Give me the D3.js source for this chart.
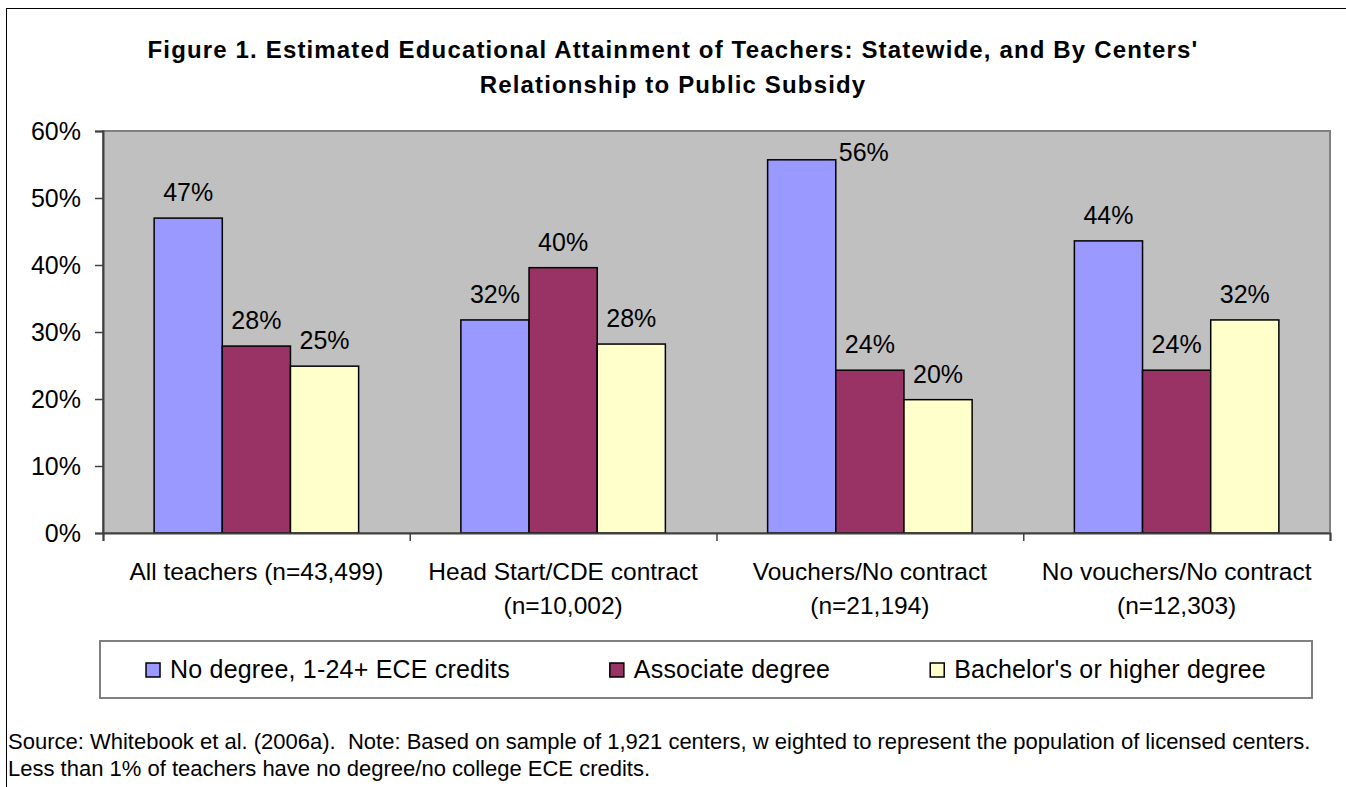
<!DOCTYPE html>
<html>
<head>
<meta charset="utf-8">
<script src="https://cdn.jsdelivr.net/npm/d3@7"></script>
<style>
  body { margin: 0; background: #fff; }
  svg  { display: block; font-family: "Liberation Sans", Arial, sans-serif; }
  .note { white-space: pre; }
</style>
</head>
<body>
<script>
/* global d3 */

var titleLines = [ "Figure 1. Estimated Educational Attainment of Teachers: Statewide, and By Centers'"
                 , "Relationship to Public Subsidy"
                 ];
var categories = ["All teachers", "Head Start/CDE contract", "Vouchers/No contract", "No vouchers/No contract"];
var catLine1   = ["All teachers (n=43,499)", "Head Start/CDE contract", "Vouchers/No contract", "No vouchers/No contract"];
var catLine2   = ["", "(n=10,002)", "(n=21,194)", "(n=12,303)"];
var seriesNames = ["No degree, 1-24+ ECE credits", "Associate degree", "Bachelor's or higher degree"];
var seriesColors = ["#9999FF", "#993366", "#FFFFCC"];
var noDegree   = [47.0, 31.8, 55.7, 43.6];
var associate  = [27.9, 39.6, 24.3, 24.3];
var bachelors  = [24.9, 28.2, 19.9, 31.8];
var yTicks     = [0, 10, 20, 30, 40, 50, 60];
var sourceLines = [ "Source: Whitebook et al. (2006a).  Note: Based on sample of 1,921 centers, w eighted to represent the population of licensed centers."
                  , "Less than 1% of teachers have no degree/no college ECE credits."
                  ];

var seriesValues = [noDegree, associate, bachelors];

var width  = 1346;
var height = 787;
var plot   = { left: 103, right: 1330, top: 131, bottom: 533 };
var legendBox = { left: 100, right: 1312, top: 641, bottom: 698 };

var svg = d3.select("body").append("svg")
            .attr("width", width)
            .attr("height", height);

// outer frame (right and bottom edges fall off the page)
svg.append("rect")
   .attr("x", 6.5).attr("y", 8.5)
   .attr("width", 1400).attr("height", 900)
   .attr("fill", "none")
   .attr("stroke", "#000")
   .attr("stroke-width", 1);

// title
svg.append("g")
   .selectAll("text")
   .data(titleLines)
   .enter().append("text")
   .attr("x", 673)
   .attr("y", (d, i) => 58 + i * 35)
   .attr("text-anchor", "middle")
   .attr("font-size", 24)
   .attr("font-weight", "bold")
   .attr("letter-spacing", 1.15)
   .text(d => d);

var x0 = d3.scaleBand()
           .domain(categories)
           .range([plot.left, plot.right]);

var x1 = d3.scaleBand()
           .domain(seriesNames)
           .range([0, x0.bandwidth()])
           .paddingOuter(0.75);

var y = d3.scaleLinear()
          .domain([0, 60])
          .range([plot.bottom, plot.top]);

// plot area
svg.append("rect")
   .attr("x", plot.left).attr("y", plot.top)
   .attr("width", plot.right - plot.left)
   .attr("height", plot.bottom - plot.top)
   .attr("fill", "#C0C0C0")
   .attr("stroke", "#808080")
   .attr("stroke-width", 2);

// bars
var groups = svg.append("g")
   .selectAll("g")
   .data(categories)
   .enter().append("g")
   .attr("transform", d => "translate(" + x0(d) + ",0)");

var barData = (c, ci) => seriesNames.map((s, si) => ({ series: s, si: si, value: seriesValues[si][ci] }));

groups.selectAll("rect")
   .data(barData)
   .enter().append("rect")
   .attr("x", d => x1(d.series))
   .attr("y", d => y(d.value))
   .attr("width", x1.bandwidth())
   .attr("height", d => y(0) - y(d.value))
   .attr("fill", d => seriesColors[d.si])
   .attr("stroke", "#000")
   .attr("stroke-width", 1.5);

// labels sit above the bar, or beside its top when there is no room above
var labelGap = 17;
var labelTooHigh = d => y(d.value) - labelGap - 18 < plot.top;

groups.selectAll("text")
   .data(barData)
   .enter().append("text")
   .attr("x", d => labelTooHigh(d)
                   ? x1(d.series) + x1.bandwidth() + 3
                   : x1(d.series) + x1.bandwidth() / 2)
   .attr("y", d => labelTooHigh(d) ? y(d.value) + 1 : y(d.value) - labelGap)
   .attr("text-anchor", d => labelTooHigh(d) ? "start" : "middle")
   .attr("font-size", 25)
   .text(d => Math.round(d.value) + "%");

// y axis
var yAxis = svg.append("g")
   .attr("transform", "translate(" + plot.left + ",0)")
   .call(d3.axisLeft(y)
           .tickValues(yTicks)
           .tickSize(8)
           .tickPadding(14)
           .tickFormat(d => d + "%"));
yAxis.select(".domain").attr("stroke", "#404040").attr("stroke-width", 2);
yAxis.selectAll(".tick line").attr("stroke", "#404040").attr("stroke-width", 1.5);
yAxis.selectAll(".tick text")
     .attr("font-size", 25)
     .attr("font-family", "\"Liberation Sans\", Arial, sans-serif")
     .attr("fill", "#000");

// x axis: ticks sit on the category boundaries
var xb = d3.scaleLinear().domain([0, categories.length]).range([plot.left, plot.right]);
var xAxis = svg.append("g")
   .attr("transform", "translate(0," + plot.bottom + ")")
   .call(d3.axisBottom(xb)
           .ticks(categories.length)
           .tickSize(8)
           .tickFormat(""));
xAxis.select(".domain").attr("stroke", "#404040").attr("stroke-width", 2);
xAxis.selectAll(".tick line").attr("stroke", "#404040").attr("stroke-width", 1.5);

var catLabels = svg.append("g")
   .selectAll("text")
   .data(categories)
   .enter().append("text")
   .attr("text-anchor", "middle")
   .attr("font-size", 24.5)
   .attr("x", d => x0(d) + x0.bandwidth() / 2)
   .attr("y", 580);
catLabels.append("tspan")
   .attr("x", d => x0(d) + x0.bandwidth() / 2)
   .text((d, i) => catLine1[i]);
catLabels.append("tspan")
   .attr("x", d => x0(d) + x0.bandwidth() / 2)
   .attr("dy", 34)
   .text((d, i) => catLine2[i]);

// legend
svg.append("rect")
   .attr("x", legendBox.left).attr("y", legendBox.top)
   .attr("width", legendBox.right - legendBox.left)
   .attr("height", legendBox.bottom - legendBox.top)
   .attr("fill", "#fff")
   .attr("stroke", "#808080")
   .attr("stroke-width", 2);

var legend = svg.append("g");
var items = legend.selectAll("g")
   .data(seriesNames)
   .enter().append("g");
items.append("rect")
   .attr("x", 0).attr("y", 663)
   .attr("width", 14).attr("height", 14)
   .attr("fill", (d, i) => seriesColors[i])
   .attr("stroke", "#000")
   .attr("stroke-width", 1.5);
items.append("text")
   .attr("x", 24).attr("y", 678)
   .attr("font-size", 25)
   .attr("letter-spacing", 0.2)
   .text(d => d);

var gap = 100;
var offsets = [];
var total = 0;
items.each(function () {
    offsets.push(total);
    total += this.getBBox().width + gap;
});
total -= gap;
var legendStart = (legendBox.left + legendBox.right) / 2 - total / 2;
items.attr("transform", (d, i) => "translate(" + (legendStart + offsets[i]) + ",0)");

// source note
svg.append("g")
   .selectAll("text")
   .data(sourceLines)
   .enter().append("text")
   .attr("class", "note")
   .attr("x", 8)
   .attr("y", (d, i) => 749 + i * 27)
   .attr("font-size", 22)
   .text(d => d);
</script>
</body>
</html>
